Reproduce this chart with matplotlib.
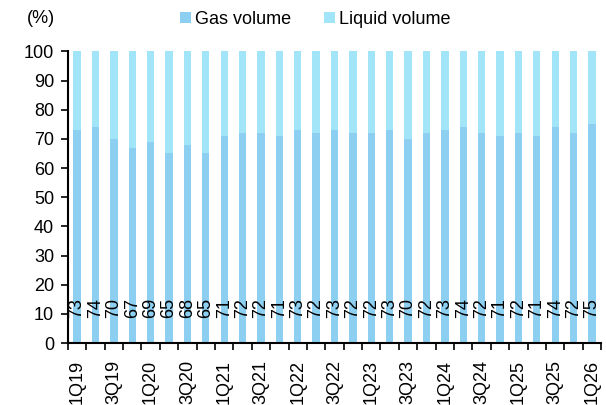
import numpy as np
import matplotlib
matplotlib.use('Agg')
import matplotlib.pyplot as plt

plt.rcParams['font.family'] = ['Liberation Sans', 'DejaVu Sans']

# quarterly share of volume (%)
quarters = ['1Q19', '2Q19', '3Q19', '4Q19', '1Q20', '2Q20', '3Q20', '4Q20',
            '1Q21', '2Q21', '3Q21', '4Q21', '1Q22', '2Q22', '3Q22', '4Q22',
            '1Q23', '2Q23', '3Q23', '4Q23', '1Q24', '2Q24', '3Q24', '4Q24',
            '1Q25', '2Q25', '3Q25', '4Q25', '1Q26']
gas = [73, 74, 70, 67, 69, 65, 68, 65, 71, 72, 72, 71, 73, 72, 73, 72,
       72, 73, 70, 72, 73, 74, 72, 71, 72, 71, 74, 72, 75]
liquid = [100 - g for g in gas]

gas_color = '#8DCFF0'
liq_color = '#A2E4F8'
fs = 13

fig = plt.figure(figsize=(6.06, 4.05), dpi=100)
ax = fig.add_axes([0.112, 0.153, 0.88, 0.72])

x = np.arange(len(quarters))
ax.bar(x, gas, width=0.4, color=gas_color, label='Gas volume')
ax.bar(x, liquid, width=0.4, bottom=gas, color=liq_color, label='Liquid volume')

for xi, g in zip(x, gas):
    ax.text(xi, 8.5, str(g), rotation=90, ha='center', va='bottom', fontsize=fs)

ax.set_xlim(-0.5, len(quarters) - 0.5)
ax.set_ylim(0, 100)
ax.set_yticks(range(0, 101, 10))

# tick marks between categories, labels under every other bar
ax.set_xticks(np.arange(-0.5, len(quarters), 1))
ax.set_xticklabels([])
ax.set_xticks(x[::2], minor=True)
ax.set_xticklabels(quarters[::2], minor=True, rotation=90, fontsize=fs)
ax.tick_params(axis='x', which='major', length=5, width=1.2, direction='out')
ax.tick_params(axis='x', which='minor', length=0, pad=12)
ax.tick_params(axis='y', length=5, width=1.2, labelsize=fs, direction='out', pad=5)

for s in ['top', 'right']:
    ax.spines[s].set_visible(False)
for s in ['left', 'bottom']:
    ax.spines[s].set_linewidth(1.5)

fig.text(0.045, 0.955, '(%)', fontsize=fs, ha='left', va='center')
fig.legend(loc='center', bbox_to_anchor=(0.52, 0.952), ncol=2, frameon=False,
           fontsize=fs, handlelength=0.6, handleheight=0.6, handletextpad=0.25,
           columnspacing=1.8)

fig.savefig('out.png', dpi=100)
